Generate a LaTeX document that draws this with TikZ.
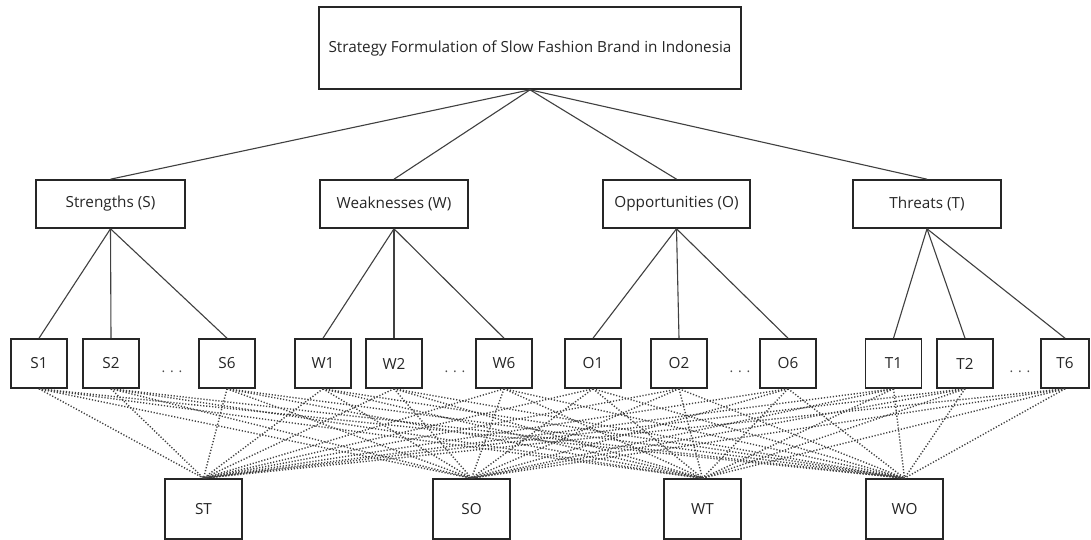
\documentclass[tikz,border=0pt]{standalone}
\usepackage{fontspec}
\setmainfont{Open Sans}
\begin{document}
\begin{tikzpicture}[x=1pt,y=-1pt,
  box/.style={draw=black!85,line width=1.6pt,inner sep=0pt,font=\fontsize{15.3}{18}\selectfont,text=black!85},
  solid link/.style={draw=black!75,line width=1.1pt},
  dot link/.style={draw=black!75,line width=1.4pt,dash pattern=on 1.2pt off 1.8pt},
  ell/.style={font=\fontsize{14}{17}\selectfont,text=black!70}]
\useasboundingbox[fill=white] (0,0) rectangle (1091,540);
% top
\node[box,minimum width=422pt,minimum height=82pt] (top) at (530,48) {Strategy Formulation of Slow Fashion Brand in Indonesia};
% level 2
\node[box,minimum width=149pt,minimum height=48pt] (S) at (110.5,204) {Strengths (S)};
\node[box,minimum width=148pt,minimum height=48pt] (W) at (394,204) {Weaknesses (W)};
\node[box,minimum width=147pt,minimum height=48pt] (O) at (676.5,204) {Opportunities (O)};
\node[box,minimum width=148pt,minimum height=48pt] (T) at (927,204) {Threats (T)};
% level 3
\foreach \n/\x in {S1/39,S2/111,S6/227,W1/323,W2/394,W6/504,O1/593,O2/679,O6/788,T1/893.5,T2/965}{
  \node[box,minimum width=56pt,minimum height=49pt] (\n) at (\x,363.5) {\n};
}
\node[box,minimum width=48pt,minimum height=49pt] (T6) at (1065,363.5) {T6};
% ellipses
\node[ell] (e1) at (172,372) {. . .};
\node[ell] (e2) at (455,372) {. . .};
\node[ell] (e3) at (740,372) {. . .};
\node[ell] (e4) at (1020,372) {. . .};
% bottom
\node[box,minimum width=77pt,minimum height=60pt] (ST) at (203.5,509) {ST};
\node[box,minimum width=77pt,minimum height=60pt] (SO) at (471.5,509) {SO};
\node[box,minimum width=77pt,minimum height=60pt] (WT) at (702.5,509) {WT};
\node[box,minimum width=77pt,minimum height=60pt] (WO) at (904.5,509) {WO};
% solid links
\foreach \c in {S,W,O,T}{\draw[solid link] (top.south) -- (\c.north);}
\foreach \c in {S1,S2,S6}{\draw[solid link] (S.south) -- (\c.north);}
\foreach \c in {W1,W2,W6}{\draw[solid link] (W.south) -- (\c.north);}
\foreach \c in {O1,O2,O6}{\draw[solid link] (O.south) -- (\c.north);}
\foreach \c in {T1,T2,T6}{\draw[solid link] (T.south) -- (\c.north);}
% dotted links
\foreach \a in {S1,S2,S6,W1,W2,W6,O1,O2,O6,T1,T2,T6}{
  \foreach \b in {ST,SO,WT,WO}{
    \draw[dot link] (\a.south) -- (\b.north);
  }
}
\end{tikzpicture}
\end{document}
